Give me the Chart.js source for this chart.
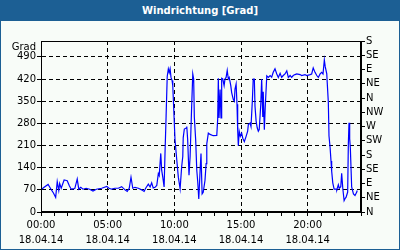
<!DOCTYPE html>
<html>
<head>
<meta charset="utf-8">
<script src="https://cdn.jsdelivr.net/npm/chart.js@4"></script>
<style>
body{margin:0;background:#fff}
#wrap{position:relative;width:400px;height:250px;background:#f8fcf8;overflow:hidden}
#title{position:absolute;left:0;top:0;width:400px;height:21px;background:#1c5f94;color:#fff;
  font:bold 10px "DejaVu Sans";text-align:center;line-height:21px;z-index:2}
#frame{position:absolute;left:0;top:0;width:398px;height:248px;border:1px solid #1c5f94;z-index:3}
canvas{position:absolute;left:0;top:0}
</style>
</head>
<body>
<div id="wrap">
  <div id="title">Windrichtung [Grad]</div>
  <canvas id="chart-wind" width="400" height="250"></canvas>
  <div id="frame"></div>
</div>
<script>
// minutes since 00:00 on 18.04.14
const times = [
  0,14,32,45,56,66,73,80,84,91,
  104,118,128,136,152,163,170,179,189,203,
  219,234,249,273,296,306,318,333,348,363,
  378,388,397,405,413,423,438,453,464,471,
  483,491,498,505,513,521,528,532,539,543,
  548,554,558,563,568,573,577,581,585,590,
  593,599,603,611,618,626,633,638,640,645,
  653,656,660,666,671,678,683,687,690,696,
  701,705,710,716,720,725,730,738,743,746,
  753,761,775,791,795,798,801,806,810,813,
  818,824,828,833,838,843,847,854,858,865,
  870,873,878,882,885,888,892,897,903,908,
  915,923,930,933,941,945,951,955,960,963,
  968,973,978,982,989,993,998,1000,1005,1009,
  1016,1023,1031,1038,1045,1053,1061,1068,1076,1083,
  1090,1098,1106,1113,1121,1128,1135,1143,1151,1166,
  1173,1188,1196,1211,1218,1225,1233,1241,1248,1256,
  1263,1269,1275,1279,1286,1288,1293,1296,1301,1305,
  1308,1313,1319,1328,1331,1338,1342,1349,1353,1358,
  1364,1368,1373,1380,1383,1386,1389,1392,1398,1406,
  1413,1421,1423
]
// wind direction in degrees
const direction = [
  70,78,87,72,60,46,96,68,90,75,
  101,99,82,72,74,104,72,78,72,75,
  72,66,72,75,81,75,72,75,75,80,
  70,65,75,110,75,78,75,70,65,75,
  88,79,92,76,78,84,121,115,185,132,
  110,79,185,303,428,452,440,452,425,415,
  399,297,228,164,110,73,143,175,235,262,
  265,270,228,116,175,335,436,420,300,228,
  132,98,41,132,185,57,62,100,153,215,
  249,245,241,242,292,422,297,387,297,422,
  420,399,420,425,447,420,425,399,377,356,
  350,388,404,340,260,209,255,239,249,233,
  222,239,255,276,281,270,350,420,420,334,
  287,266,255,260,340,420,300,380,260,330,
  430,425,431,426,441,452,436,425,438,425,
  431,436,446,425,431,425,431,434,436,434,
  431,434,431,434,436,455,441,431,425,436,
  441,436,480,459,436,409,346,240,203,161,
  129,92,72,72,70,86,75,80,122,75,
  36,42,47,63,213,282,232,203,79,57,
  52,63,68
]
const degree_ticks = [0,70,140,210,280,350,420,490]
const compass = ['N','NE','E','SE','S','SW','W','NW','N','NE','E','SE','S']
const hour_labels = ['00:00','05:00','10:00','15:00','20:00']
const date_label = '18.04.14'

Chart.defaults.font.family = '"DejaVu Sans"'
Chart.defaults.font.size = 10
Chart.defaults.color = '#000'

const frame_plugin = {
  id: 'frame',
  afterDraw(chart){
    const ctx = chart.ctx
    const a = chart.chartArea
    ctx.save()
    ctx.strokeStyle = '#000'
    ctx.lineWidth = 1
    ctx.strokeRect(Math.round(a.left) + 0.5, Math.round(a.top) + 0.5,
      Math.round(a.right - a.left) - 1, Math.round(a.bottom - a.top) - 1)
    ctx.fillStyle = '#000'
    ctx.textAlign = 'right'
    ctx.textBaseline = 'middle'
    ctx.font = '10px "DejaVu Sans"'
    ctx.fillText('Grad', chart.scales.y.right - 5, a.top + 6)
    ctx.restore()
  }
}

function make_chart(){
  const canvas = document.getElementById('chart-wind')
  return new Chart(canvas, {
    type: 'line',
    data: {
      datasets: [{
        data: times.map((t, i) => ({x: t, y: direction[i]})),
        borderColor: '#0000ff',
        borderWidth: 1.2,
        pointRadius: 0,
        tension: 0,
        fill: false,
        yAxisID: 'y',
      }]
    },
    options: {
      responsive: false,
      animation: false,
      layout: {padding: {top: 41, left: 0, right: 0, bottom: 0}},
      plugins: {legend: {display: false}, tooltip: {enabled: false}},
      scales: {
        x: {
          type: 'linear',
          min: 0,
          max: 1440,
          afterBuildTicks: s => { s.ticks = Array.from({length: 25}, (_, i) => ({value: i * 60})) },
          afterFit: s => { s.height = 38 },
          ticks: {
            autoSkip: false,
            maxRotation: 0,
            padding: 2,
            font: {lineHeight: 1.5},
            callback: v => (v % 300 === 0 && v < 1440) ? [hour_labels[v / 300], date_label] : '',
          },
          grid: {
            color: c => (c.tick && c.tick.value % 300 === 0 && c.tick.value > 0 && c.tick.value < 1440) ? '#000' : 'rgba(0,0,0,0)',
            tickColor: '#000',
            tickLength: 4,
          },
          border: {color: '#000', dash: [4, 3]},
        },
        y: {
          position: 'left',
          min: 0,
          max: 540,
          afterBuildTicks: s => { s.ticks = degree_ticks.map(v => ({value: v})) },
          afterFit: s => { s.width = 41 },
          ticks: {padding: 1, autoSkip: false},
          grid: {
            color: c => (c.tick && c.tick.value > 0) ? '#000' : 'rgba(0,0,0,0)',
            tickColor: '#000',
            tickLength: 4,
          },
          border: {color: '#000', dash: [4, 3]},
        },
        y1: {
          position: 'right',
          min: 0,
          max: 540,
          afterBuildTicks: s => { s.ticks = compass.map((_, i) => ({value: i * 45})) },
          afterFit: s => { s.width = 39 },
          ticks: {padding: 1, autoSkip: false, callback: (v, i) => compass[i]},
          grid: {drawOnChartArea: false, tickColor: '#000', tickLength: 4},
          border: {color: '#000'},
        },
      },
    },
    plugins: [frame_plugin],
  })
}

let chart = make_chart()
</script>
</body>
</html>
